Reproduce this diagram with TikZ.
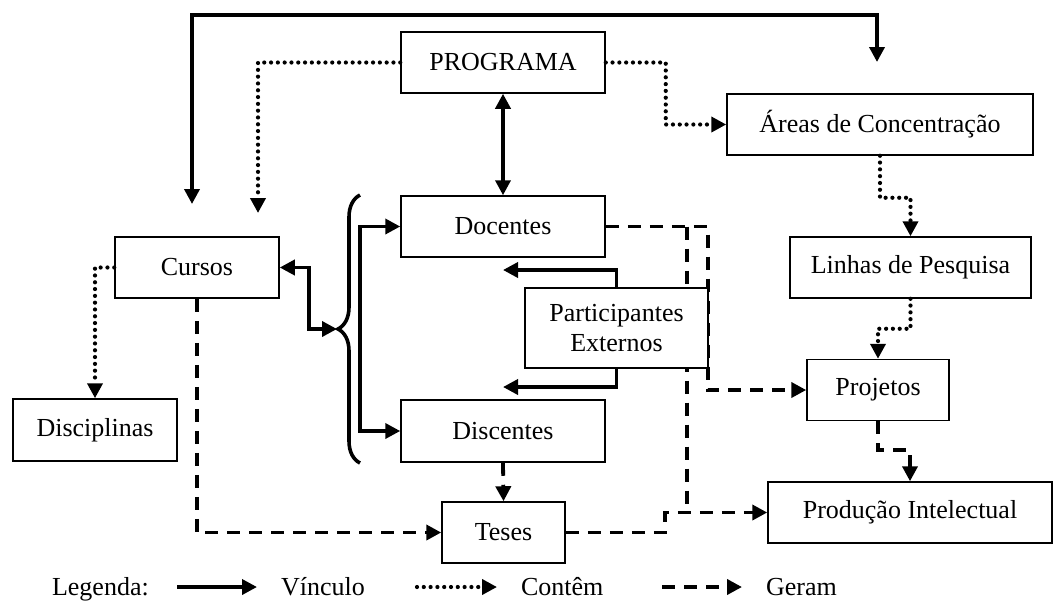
\documentclass[tikz,border=0pt]{standalone}
\usepackage{fontspec}
\setmainfont{Liberation Serif}
\usetikzlibrary{arrows.meta,decorations.pathreplacing,backgrounds,calc}

\begin{document}
\begin{tikzpicture}[x=0.5pt,y=-0.5pt,
        font=\fontsize{13}{15}\selectfont,
        >={Triangle[length=7.5pt,width=7.5pt]},
        box/.style={draw,line width=0.75pt,fill=white,inner sep=0pt,align=center,minimum height=30.5pt},
        vinc/.style={line width=1.8pt,->},
        cont/.style={line width=2.1pt,dash pattern=on 0pt off 3.4pt,line cap=round,->},
        geram/.style={line width=1.9pt,dash pattern=on 6.5pt off 4.5pt,->}]

        \useasboundingbox (0,0) rectangle (1054,601);

        \node[box,minimum width=102pt] (prog) at (503,62.5) {PROGRAMA};
        \node[box,minimum width=153pt] (areas) at (880,124.5) {Áreas de Concentração};
        \node[box,minimum width=82pt] (cursos) at (197,267.5) {Cursos};
        \node[box,minimum width=102pt] (doc) at (503,226.5) {Docentes};
        \node[box,minimum width=120.5pt] (linhas) at (910.5,267.5) {Linhas de Pesquisa};
        \node[box,minimum width=91.5pt,minimum height=40pt] (part) at (616.5,328) {Participantes\\Externos};
        \node[box,minimum width=82pt,minimum height=31pt] (disc) at (95,430) {Disciplinas};
        \node[box,minimum width=102pt,minimum height=31pt] (dis) at (503,431) {Discentes};
        \node[box,minimum width=71pt] (proj) at (878,390) {Projetos};
        \node[box,minimum width=61.5pt] (teses) at (503.5,532.5) {Teses};
        \node[box,minimum width=142pt] (prod) at (910,512.5) {Produção Intelectual};

        \coordinate (cTop) at (192,204);
        \coordinate (aTop) at (877,62);
        \coordinate (braceTip) at (337,329);
        \coordinate (docIn) at (503,270);
        \coordinate (disIn) at (503,387);
        \coordinate (cursIn) at (258,213);
        \coordinate (split) at (687,226.5);

        % vinculo
        \draw[vinc,<->] (cTop) -- ++(0,-189) -| (aTop);
        \draw[vinc,<->] (prog) -- (doc);
        \draw[vinc,<->] (cursos.east) -- ++(29,0) |- (braceTip);
        \draw[line width=1.8pt,decorate,decoration={brace,amplitude=11pt}] (360,463) -- (360,195);
        \draw[vinc,<->] (doc.west) -- ++(-40,0) |- (dis.west);
        \draw[vinc] (part.north) |- (docIn);
        \draw[vinc] (part.south) |- (disIn);

        % contem
        \draw[cont] (prog.west) -| (cursIn);
        \draw[cont] (prog.east) -- ++(60,0) |- (areas.west);
        \draw[cont] (areas.south) -- ++(0,42) -| (linhas.north);
        \draw[cont] (linhas.south) -- ++(0,30) -| (proj.north);
        \draw[cont] (cursos.west) -| (disc.north);

        % geram
        \draw[geram] (cursos.south) |- (teses.west);
        \draw[geram] (dis.south) -- (teses.north);
        \draw[geram] (teses.east) -- ++(99,0) |- (prod.west);
        \draw[geram] (proj.south) -- ++(0,29) -| (prod.north);
        \begin{scope}[on background layer]
            \draw[geram] (doc.east) -- ++(102,0) |- (proj.west);
            \draw[geram,-] (split) -- (split |- prod.west);
        \end{scope}

        % legenda
        \node[anchor=base west] (leg) at (45,595) {Legenda:};
        \foreach \st/\xa/\txt in {vinc/177/Vínculo,cont/417/Contêm,geram/662/Geram}{
            \coordinate (L\xa) at (\xa,587);
            \draw[\st] (L\xa) -- ++(80,0) coordinate (M\xa);
            \node[anchor=base west] (T\xa) at ($(M\xa)+(17,8)$) {\txt};
        }
    \end{tikzpicture}
\end{document}
